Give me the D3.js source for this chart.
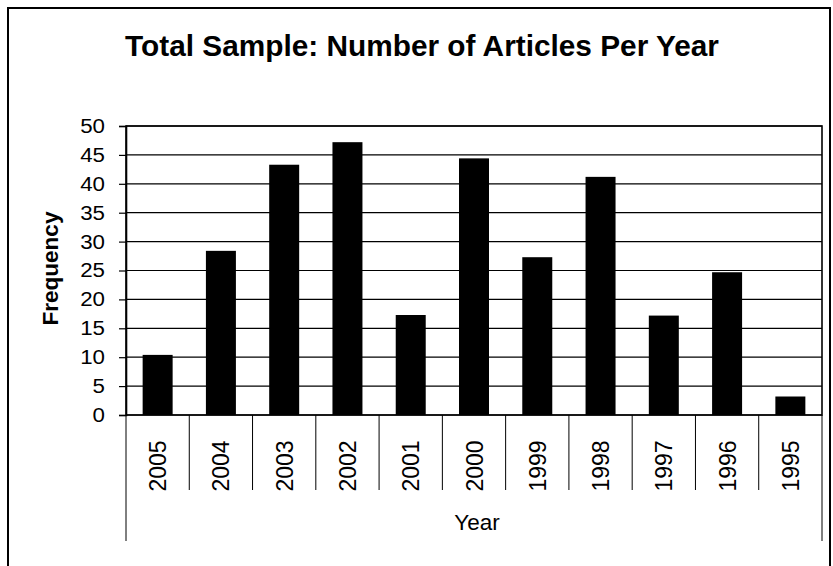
<!DOCTYPE html>
<html>
<head>
<meta charset="utf-8">
<script src="https://cdn.jsdelivr.net/npm/d3@7"></script>
<style>
  html, body { margin: 0; padding: 0; background: #fff; }
  svg { display: block; }
  text { font-family: "Liberation Sans", Arial, sans-serif; fill: #000; }
</style>
</head>
<body>
<svg id="chart" width="833" height="566"></svg>
<script>
const years = ["2005","2004","2003","2002","2001","2000","1999","1998","1997","1996","1995"];
const frequency = [10.4, 28.4, 43.3, 47.2, 17.3, 44.4, 27.3, 41.2, 17.2, 24.7, 3.2];
const yTicks = [0, 5, 10, 15, 20, 25, 30, 35, 40, 45, 50];
const titleText = "Total Sample: Number of Articles Per Year";
const xTitle = "Year";
const yTitle = "Frequency";

const svg = d3.select("#chart");
const plot = { left: 126, right: 822, top: 126, bottom: 415 };

// outer chart border
svg.append("rect")
  .attr("x", 8).attr("y", 8)
  .attr("width", 822).attr("height", 620)
  .attr("fill", "none").attr("stroke", "#000").attr("stroke-width", 2);

// title
svg.append("text")
  .attr("x", 422).attr("y", 56)
  .attr("text-anchor", "middle")
  .attr("font-size", 29.8).attr("font-weight", "bold")
  .text(titleText);

const x = d3.scaleBand()
  .domain(years)
  .range([plot.left, plot.right])
  .paddingInner(0.526)
  .paddingOuter(0.263);

const y = d3.scaleLinear()
  .domain([0, 50])
  .range([plot.bottom, plot.top]);

// gridlines
svg.append("g")
  .selectAll("line")
  .data(yTicks)
  .join("line")
  .attr("x1", plot.left).attr("x2", plot.right)
  .attr("y1", d => y(d)).attr("y2", d => y(d))
  .attr("stroke", "#000").attr("stroke-width", 1.2);

// bars
svg.append("g")
  .selectAll("rect")
  .data(years.map((yr, i) => ({ yr, v: frequency[i] })))
  .join("rect")
  .attr("x", d => x(d.yr))
  .attr("width", x.bandwidth())
  .attr("y", d => y(d.v))
  .attr("height", d => y(0) - y(d.v))
  .attr("fill", "#000");

// plot border
svg.append("rect")
  .attr("x", plot.left).attr("y", plot.top)
  .attr("width", plot.right - plot.left)
  .attr("height", plot.bottom - plot.top)
  .attr("fill", "none").attr("stroke", "#000").attr("stroke-width", 1.6);

// y axis
const yAxis = d3.axisLeft(y)
  .tickValues(yTicks)
  .tickSize(7)
  .tickPadding(14)
  .tickFormat(d3.format("d"));
const gy = svg.append("g")
  .attr("transform", `translate(${plot.left},0)`)
  .call(yAxis);
gy.select(".domain").attr("stroke", "#000").attr("stroke-width", 1.6);
gy.selectAll(".tick line").attr("stroke", "#000").attr("stroke-width", 1.2);
gy.selectAll(".tick text")
  .attr("font-size", 20)
  .attr("font-family", "Liberation Sans, Arial, sans-serif")
  .attr("fill", "#000")
  .attr("textLength", d => String(d).length * 12.4)
  .attr("lengthAdjust", "spacingAndGlyphs");

// x category separators
const step = x.step();
const bounds = years.map(yr => x(yr) - x.paddingOuter() * step);
const sepG = svg.append("g");
bounds.forEach((bx, i) => {
  sepG.append("line")
    .attr("x1", bx).attr("x2", bx)
    .attr("y1", plot.bottom).attr("y2", i === 0 ? 541 : 490)
    .attr("stroke", "#000").attr("stroke-width", 1);
});
sepG.append("line")
  .attr("x1", plot.right).attr("x2", plot.right)
  .attr("y1", plot.bottom).attr("y2", 541)
  .attr("stroke", "#000").attr("stroke-width", 1);

// x labels rotated
svg.append("g")
  .selectAll("text")
  .data(years)
  .join("text")
  .attr("transform", d => `translate(${x(d) + x.bandwidth() / 2 + 8.5},466) rotate(-90)`)
  .attr("text-anchor", "middle")
  .attr("font-size", 23)
  .text(d => d);

// axis titles
svg.append("text")
  .attr("x", (plot.left + plot.right) / 2 + 3).attr("y", 530)
  .attr("text-anchor", "middle")
  .attr("font-size", 22.5)
  .text(xTitle);

svg.append("text")
  .attr("transform", `translate(58,268.5) rotate(-90)`)
  .attr("text-anchor", "middle")
  .attr("font-size", 22.5).attr("font-weight", "bold")
  .text(yTitle);
</script>
</body>
</html>
